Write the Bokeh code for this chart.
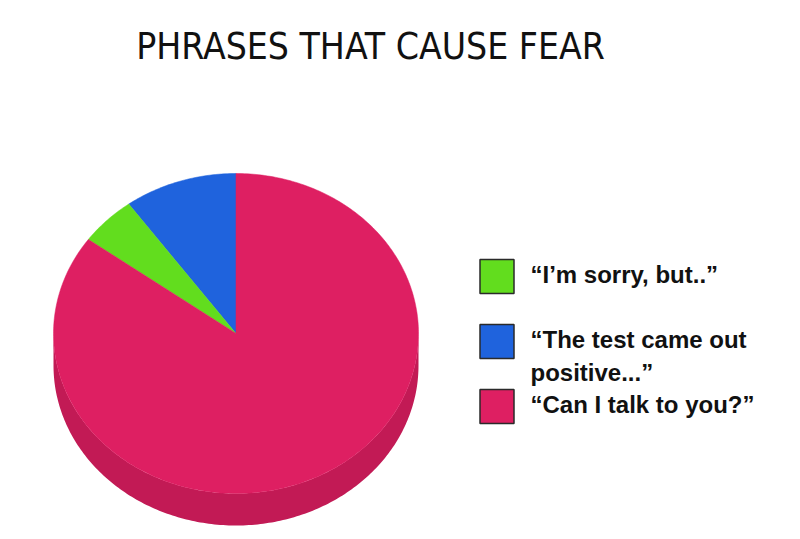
import numpy as np
from bokeh.plotting import figure
from bokeh.models import Range1d
from bokeh.core.properties import value
from bokeh.embed import file_html
from bokeh.resources import INLINE

title = "PHRASES THAT CAUSE FEAR"
# slices in drawing order, counter-clockwise from 12 o'clock
slice_names = ["“The test came out positive...”", "“I’m sorry, but..”", "“Can I talk to you?”"]
slice_values = [10, 5, 85]
slice_colors = ["#1F63DD", "#62DD1E", "#DE1F62"]
side_color = "#C21A55"

legend_lines = [["“I’m sorry, but..”"], ["“The test came out", "positive...”"], ["“Can I talk to you?”"]]
legend_colors = ["#62DD1E", "#1F63DD", "#DE1F62"]

W, H = 792, 531
p = figure(width=W, height=H, output_backend="svg", toolbar_location=None,
           x_range=Range1d(0, W), y_range=Range1d(H, 0), min_border=0)
p.axis.visible = False
p.grid.visible = False
p.outline_line_color = None
p.background_fill_color = "white"

cx, cy, rx, ry, depth = 235.5, 333, 182.5, 160, 32

# side (depth) of the pie
t = np.linspace(np.pi, 2 * np.pi, 200)
sx = list(cx + rx * np.cos(t)) + list(cx + rx * np.cos(t[::-1]))
sy = list(cy + depth - ry * np.sin(t)) + list(cy - ry * np.sin(t[::-1]))
p.patch(sx, sy, fill_color=side_color, line_color=None)

# top face wedges
total = sum(slice_values)
start = np.pi / 2
xs, ys = [], []
for v in slice_values:
    end = start + 2 * np.pi * v / total
    tt = np.linspace(start, end, max(3, int(400 * v / total)))
    xs.append([cx] + list(cx + rx * np.cos(tt)))
    ys.append([cy] + list(cy - ry * np.sin(tt)))
    start = end
p.patches(xs, ys, fill_color=slice_colors, line_color=slice_colors, line_width=0.5)

# title
p.text(x=[370], y=[46], text=[title],
       text_font=value("'DejaVu Sans Condensed', 'Liberation Sans'"),
       text_font_size="37px", text_align="center", text_baseline="alphabetic",
       text_color="#111111")

# legend
box_x, box_size, text_x = 496.5, 34, 530
box_tops = [259, 324, 389]
line_gap = 33
for lines, col, top in zip(legend_lines, legend_colors, box_tops):
    p.rect(x=[box_x], y=[top + box_size / 2], width=box_size, height=box_size,
           fill_color=col, line_color="#2a2a2a", line_width=1.5)
    base = top + 15
    p.text(x=[text_x] * len(lines), y=[base + i * line_gap for i in range(len(lines))],
           text=lines, text_font=value("Liberation Sans"), text_font_style="bold",
           text_font_size="24px", text_baseline="alphabetic", text_color="#111111")

open("out.html", "w").write(file_html(p, INLINE))
